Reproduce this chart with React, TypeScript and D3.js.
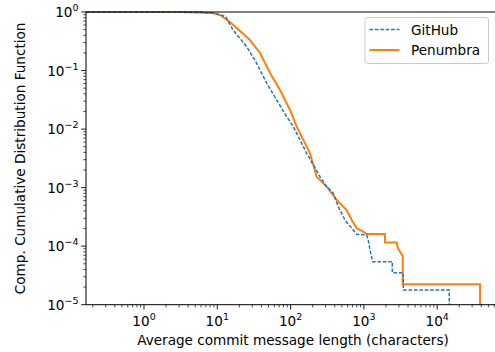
import React from "react";
import * as d3 from "d3";

const githubX = [0.162, 5.8, 9.3, 12.3, 13.1, 14.0, 16.4, 25.2, 34.5, 47.2, 64.6, 88.5, 109, 166, 252, 311, 383, 448, 552, 716, 798, 1092, 1148, 1211, 1318, 2440, 2440, 3450, 3450, 14600, 14600];
const githubY = [1, 1, 0.94, 0.855, 0.82, 0.7, 0.493, 0.255, 0.133, 0.0605, 0.0314, 0.0163, 0.011, 0.00386, 0.00154, 0.00104, 0.0008, 0.000472, 0.00028, 0.000189, 0.00016, 0.000155, 0.000127, 0.000086, 0.0000542, 0.0000542, 0.0000352, 0.0000352, 0.0000178, 0.0000178, 0.00001];

const penumbraX = [0.162, 3.1, 8.73, 10.9, 14.9, 27.9, 38.3, 52.4, 71.7, 98.2, 121, 184, 227, 311, 426, 582, 682, 798, 982, 1092, 1940, 1940, 2800, 2917, 3383, 3383, 38400, 38400];
const penumbraY = [1, 1, 0.96, 0.89, 0.675, 0.332, 0.2, 0.091, 0.0465, 0.0212, 0.011, 0.00386, 0.00154, 0.00104, 0.000615, 0.000415, 0.00028, 0.000202, 0.000177, 0.000161, 0.000161, 0.000115, 0.000115, 0.000092, 0.000068, 0.0000223, 0.0000223, 0.00001];

const xMajor = [1, 10, 100, 1000, 10000];
const xMajorExp = ["0", "1", "2", "3", "4"];
const yMajor = [1, 0.1, 0.01, 0.001, 0.0001, 0.00001];
const yMajorExp = ["0", "\u22121", "\u22122", "\u22123", "\u22124", "\u22125"];

const seriesNames = ["GitHub", "Penumbra"];
const xLabel = "Average commit message length (characters)";
const yLabel = "Comp. Cumulative Distribution Function";

const W = 495;
const H = 352;
const left = 86;
const top = 12;
const bottom = 304.7;
const right = 500;

export default function App() {
  const x = d3.scaleLog().domain([Math.pow(10, -0.7913), Math.pow(10, 4.857)]).range([left, right]);
  const y = d3.scaleLog().domain([1e-5, 1]).range([bottom, top]);

  const line = d3
    .line<[number, number]>()
    .x((d) => x(d[0]))
    .y((d) => y(d[1]));

  const gh = githubX.map((v, i) => [v, githubY[i]] as [number, number]);
  const pe = penumbraX.map((v, i) => [v, penumbraY[i]] as [number, number]);

  const xMinor: number[] = [];
  for (let e = -1; e <= 4; e++) {
    for (let m = 2; m <= 9; m++) {
      const v = m * Math.pow(10, e);
      if (x(v) >= left && x(v) <= W) xMinor.push(v);
    }
  }
  const yMinor: number[] = [];
  for (let e = -5; e < 0; e++) {
    for (let m = 2; m <= 9; m++) yMinor.push(m * Math.pow(10, e));
  }

  const font = "DejaVu Sans, sans-serif";
  const fs = 13.6;
  const sfs = 9.5;

  return (
    <svg
      width={W}
      height={H}
      style={{ position: "absolute", left: 0, top: 0, background: "#fff" }}
      fontFamily={font}
    >
      <rect x={0} y={0} width={W} height={H} fill="#fff" />
      {/* lines */}
      <path d={line(pe) || ""} fill="none" stroke="#ff7f0e" strokeWidth={2} />
      <path
        d={line(gh) || ""}
        fill="none"
        stroke="#1f77b4"
        strokeWidth={1.5}
        strokeDasharray="3.6,1.8"
      />
      {/* spines */}
      <line x1={left} x2={left} y1={top} y2={bottom} stroke="#000" strokeWidth={1} />
      <line x1={left} x2={right} y1={bottom} y2={bottom} stroke="#000" strokeWidth={1} />
      <line x1={left} x2={right} y1={top} y2={top} stroke="#000" strokeWidth={1} />
      {/* x ticks */}
      {xMajor.map((v, i) => (
        <g key={"xm" + i}>
          <line x1={x(v)} x2={x(v)} y1={bottom} y2={bottom + 4.8} stroke="#000" strokeWidth={0.9} />
          <text x={x(v)} y={bottom + 20.8} fontSize={fs} textAnchor="middle" fill="#000">
            10
            <tspan dy={-5.8} fontSize={sfs}>
              {xMajorExp[i]}
            </tspan>
          </text>
        </g>
      ))}
      {xMinor.map((v, i) => (
        <line key={"xn" + i} x1={x(v)} x2={x(v)} y1={bottom} y2={bottom + 2.7} stroke="#000" strokeWidth={0.7} />
      ))}
      {/* y ticks */}
      {yMajor.map((v, i) => (
        <g key={"ym" + i}>
          <line x1={left - 4.8} x2={left} y1={y(v)} y2={y(v)} stroke="#000" strokeWidth={0.9} />
          <text x={left - 7.5} y={y(v) + 5} fontSize={fs} textAnchor="end" fill="#000">
            10
            <tspan dy={-5.8} fontSize={sfs}>
              {yMajorExp[i]}
            </tspan>
          </text>
        </g>
      ))}
      {yMinor.map((v, i) => (
        <line key={"yn" + i} x1={left - 2.7} x2={left} y1={y(v)} y2={y(v)} stroke="#000" strokeWidth={0.7} />
      ))}
      {/* axis labels */}
      <text x={(left + right) / 2} y={345} fontSize={fs} textAnchor="middle" fill="#000">
        {xLabel}
      </text>
      <text
        transform={`translate(25,${(top + bottom) / 2}) rotate(-90)`}
        fontSize={fs}
        textAnchor="middle"
        fill="#000"
      >
        {yLabel}
      </text>
      {/* legend */}
      <rect x={365} y={17.5} width={123.5} height={46} rx={2.5} fill="#fff" fillOpacity={0.8} stroke="#ccc" strokeWidth={1} />
      <line x1={369.5} x2={399.5} y1={29.5} y2={29.5} stroke="#1f77b4" strokeWidth={1.5} strokeDasharray="3.6,1.8" />
      <text x={411} y={34.5} fontSize={fs} fill="#000">
        {seriesNames[0]}
      </text>
      <line x1={369.5} x2={399.5} y1={50} y2={50} stroke="#ff7f0e" strokeWidth={2} />
      <text x={411} y={55} fontSize={fs} fill="#000">
        {seriesNames[1]}
      </text>
    </svg>
  );
}
